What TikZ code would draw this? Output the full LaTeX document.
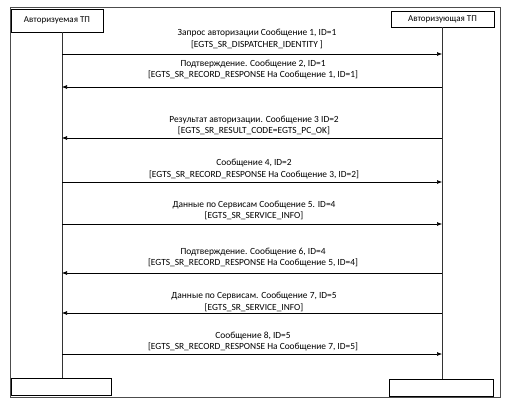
\documentclass[tikz,border=0pt]{standalone}
\usepackage{fontspec}
\setmainfont{Carlito}
\usetikzlibrary{arrows.meta}

\begin{document}
\begin{tikzpicture}[x=1pt,y=-1pt]
\tikzstyle{party}=[draw,line width=0.6pt,inner sep=0pt,font=\fontsize{9}{10}\selectfont]
\tikzstyle{lbl}=[align=center,inner sep=0pt,font=\fontsize{9.4}{11.5}\selectfont]
\tikzstyle{life}=[line width=0.6pt,draw=black!80]
\tikzstyle{msg}=[line width=0.6pt,-{Latex[length=5pt,width=4pt]}]
\useasboundingbox (0,0) rectangle (508,407);
\draw[line width=0.6pt,draw=black!70] (10,7) rectangle (500,397);
% participants
\node[party,minimum width=92pt,minimum height=23pt] (tpA) at (57,20.5) {Авторизуемая ТП};
\node[party,minimum width=103pt,minimum height=16pt] (tpB) at (442.5,19) {Авторизующая ТП};
\node[party,minimum width=100pt,minimum height=17pt] (endA) at (61,386.5) {};
\node[party,minimum width=104pt,minimum height=17pt] (endB) at (441,387.5) {};
\coordinate (xA) at (62,0);
\coordinate (xB) at (442,0);
\draw[life] (xA |- tpA.south) -- (xA |- endA.north);
\draw[life] (xB |- tpB.south) -- (xB |- endB.north);
% messages
\node[lbl] (m1) at (257,39) {Запрос авторизации Сообщение 1, ID=1\\ {[}EGTS\_SR\_DISPATCHER\_IDENTITY ]};
\coordinate (y1) at (0,54);
\draw[msg] (xA |- y1) -- (xB |- y1);
\node[lbl] (m2) at (253,69.5) {Подтверждение. Сообщение 2, ID=1\\ {[}EGTS\_SR\_RECORD\_RESPONSE На Сообщение 1, ID=1]};
\coordinate (y2) at (0,87);
\draw[msg] (xB |- y2) -- (xA |- y2);
\node[lbl] (m3) at (254,125.5) {Результат авторизации. Сообщение 3 ID=2\\ {[}EGTS\_SR\_RESULT\_CODE=EGTS\_PC\_OK]};
\coordinate (y3) at (0,138);
\draw[msg] (xB |- y3) -- (xA |- y3);
\node[lbl] (m4) at (254,169) {Сообщение 4, ID=2\\ {[}EGTS\_SR\_RECORD\_RESPONSE На Сообщение 3, ID=2]};
\coordinate (y4) at (0,182);
\draw[msg] (xA |- y4) -- (xB |- y4);
\node[lbl] (m5) at (254,210.5) {Данные по Сервисам Сообщение 5. ID=4\\ {[}EGTS\_SR\_SERVICE\_INFO]};
\coordinate (y5) at (0,224);
\draw[msg] (xA |- y5) -- (xB |- y5);
\node[lbl] (m6) at (253,257.5) {Подтверждение. Сообщение 6, ID=4\\ {[}EGTS\_SR\_RECORD\_RESPONSE На Сообщение 5, ID=4]};
\coordinate (y6) at (0,273);
\draw[msg] (xB |- y6) -- (xA |- y6);
\node[lbl] (m7) at (254,302) {Данные по Сервисам. Сообщение 7, ID=5\\ {[}EGTS\_SR\_SERVICE\_INFO]};
\coordinate (y7) at (0,313);
\draw[msg] (xB |- y7) -- (xA |- y7);
\node[lbl] (m8) at (253,341.5) {Сообщение 8, ID=5\\ {[}EGTS\_SR\_RECORD\_RESPONSE На Сообщение 7, ID=5]};
\coordinate (y8) at (0,354);
\draw[msg] (xA |- y8) -- (xB |- y8);
\end{tikzpicture}
\end{document}
